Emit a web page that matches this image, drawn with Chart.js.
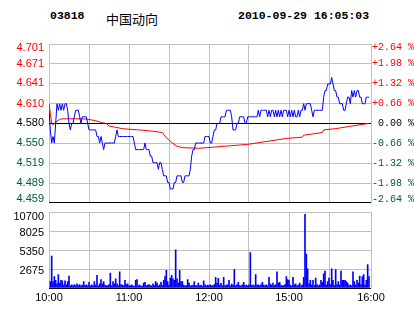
<!DOCTYPE html>
<html>
<head>
<meta charset="utf-8">
<script src="https://cdn.jsdelivr.net/npm/chart.js@4.4.1/dist/chart.umd.min.js"></script>
<style>
body { margin: 0; background: #fff; width: 414px; height: 314px; position: relative; overflow: hidden; }
.hd { position: absolute; top: 9px; line-height: 14px; color: #000; white-space: nowrap; }
.code { left: 50px; font: bold 11.5px "Liberation Mono", monospace; }
.name { left: 106px; font: 13px "Noto Sans CJK SC", sans-serif; }
.time { left: 238px; font: bold 11.5px "Liberation Mono", monospace; }
canvas { position: absolute; left: 0; }
</style>
</head>
<body>
<div class="hd code">03818</div>
<div class="hd name">中国动向</div>
<div class="hd time">2010-09-29 16:05:03</div>
<canvas id="pricechart" width="414" height="215" style="top:0"></canvas>
<canvas id="volchart" width="414" height="114" style="top:200px"></canvas>
<script>
var prevClose = 4.580;

// last price per minute, minute 0 = 10:00, 150 = 12:30 / 14:30, 240 = 16:00
var prices = [
    4.60, 4.57, 4.55, 4.56, 4.55, 4.58, 4.61, 4.60, 4.61, 4.60,
    4.61, 4.60, 4.61, 4.61, 4.60, 4.58, 4.57, 4.58, 4.58, 4.59,
    4.60, 4.60, 4.60, 4.59, 4.58, 4.59, 4.59, 4.59, 4.59, 4.58,
    4.57, 4.57, 4.57, 4.57, 4.57, 4.57, 4.56, 4.56, 4.55, 4.56,
    4.55, 4.54, 4.55, 4.55, 4.55, 4.55, 4.55, 4.55, 4.55, 4.55,
    4.56, 4.57, 4.56, 4.56, 4.56, 4.56, 4.56, 4.56, 4.56, 4.56,
    4.56, 4.56, 4.56, 4.56, 4.55, 4.54, 4.54, 4.54, 4.54, 4.54,
    4.54, 4.54, 4.55, 4.54, 4.54, 4.54, 4.53, 4.53, 4.52, 4.52,
    4.52, 4.52, 4.51, 4.52, 4.52, 4.51, 4.50, 4.50, 4.50, 4.49,
    4.49, 4.48, 4.48, 4.48, 4.49, 4.49, 4.50, 4.50, 4.50, 4.50,
    4.49, 4.49, 4.50, 4.50, 4.50, 4.50, 4.51, 4.53, 4.54, 4.54,
    4.55, 4.55, 4.55, 4.55, 4.55, 4.55, 4.55, 4.56, 4.56, 4.56,
    4.56, 4.55, 4.55, 4.56, 4.57, 4.57, 4.58, 4.58, 4.58, 4.59,
    4.59, 4.59, 4.59, 4.60, 4.60, 4.60, 4.60, 4.59, 4.57, 4.57,
    4.57, 4.58, 4.58, 4.59, 4.59, 4.59, 4.59, 4.58, 4.58, 4.59,
    4.59, 4.59, 4.59, 4.59, 4.59, 4.59, 4.59, 4.60, 4.59, 4.60,
    4.60, 4.60, 4.60, 4.60, 4.59, 4.60, 4.59, 4.60, 4.60, 4.59,
    4.60, 4.59, 4.60, 4.59, 4.60, 4.59, 4.60, 4.60, 4.60, 4.59,
    4.60, 4.59, 4.60, 4.59, 4.60, 4.59, 4.59, 4.60, 4.59, 4.60,
    4.60, 4.61, 4.60, 4.61, 4.61, 4.61, 4.61, 4.60, 4.59, 4.60,
    4.60, 4.60, 4.60, 4.60, 4.60, 4.60, 4.62, 4.63, 4.63, 4.64,
    4.64, 4.64, 4.65, 4.64, 4.63, 4.63, 4.62, 4.62, 4.61, 4.61,
    4.61, 4.60, 4.60, 4.61, 4.62, 4.62, 4.61, 4.63, 4.62, 4.63,
    4.62, 4.63, 4.63, 4.62, 4.62, 4.61, 4.61, 4.61, 4.62, 4.62,
    4.62
];

// average price (red line), read at these minutes
var avgMinutes = [0, 1, 2, 3, 5, 8, 10, 15, 20, 25, 30, 35, 40, 43, 45, 50, 55, 60, 68, 78,
    85, 88, 92, 96, 100, 112, 125, 149, 178, 190, 191, 205, 206, 215, 240];
var avgPrices = [4.610, 4.595, 4.580, 4.578, 4.582, 4.586, 4.587, 4.587, 4.587, 4.587,
    4.586, 4.584, 4.581, 4.580, 4.576, 4.574, 4.572, 4.571, 4.570, 4.568,
    4.566, 4.558, 4.551, 4.545, 4.543, 4.542, 4.544, 4.548, 4.557, 4.559,
    4.562, 4.566, 4.570, 4.572, 4.580];

// volume per minute, minutes 1..240
var volumes = [
    900, 4500, 900, 1600, 1100, 600, 1900, 700, 1100, 1000,
    400, 1000, 450, 900, 1700, 300, 450, 350, 500, 300,
    600, 350, 500, 300, 400, 900, 350, 450, 300, 800,
    300, 450, 350, 900, 400, 1800, 300, 600, 1200, 600,
    900, 400, 300, 350, 500, 2100, 300, 900, 600, 1300,
    600, 350, 2300, 500, 400, 350, 1100, 500, 600, 300,
    350, 450, 300, 250, 1100, 1200, 300, 450, 250, 300,
    700, 800, 300, 400, 500, 350, 300, 600, 350, 900,
    700, 300, 450, 800, 350, 1100, 1600, 2500, 900, 400,
    1400, 1800, 1300, 1100, 5400, 1300, 700, 2500, 900, 900,
    400, 300, 350, 1200, 700, 300, 350, 400, 900, 300,
    350, 700, 300, 400, 250, 1000, 450, 300, 400, 350,
    450, 300, 350, 500, 1500, 700, 1350, 400, 650, 300,
    1500, 350, 400, 450, 1100, 300, 550, 400, 2600, 300,
    500, 800, 350, 300, 450, 800, 350, 400, 300, 450,
    5000, 350, 450, 300, 1900, 400, 450, 300, 500, 800,
    400, 350, 450, 300, 1500, 600, 400, 700, 350, 450,
    2300, 700, 800, 400, 300, 350, 500, 1600, 1200, 1100,
    400, 300, 1500, 450, 600, 300, 400, 700, 300, 450,
    1500, 10400, 4800, 2700, 600, 1100, 400, 1100, 350, 1400,
    500, 300, 450, 1100, 800, 2000, 2400, 400, 900, 1400,
    500, 2700, 1100, 350, 2600, 500, 900, 400, 2400, 1100,
    1100, 1100, 900, 700, 350, 450, 300, 2300, 900, 400,
    1100, 700, 1700, 500, 1600, 1900, 400, 1100, 3300, 1600
];

var priceTicks = [4.459, 4.489, 4.519, 4.550, 4.580, 4.610, 4.641, 4.671, 4.701];
var pctTicks = [-2.64, -1.98, -1.32, -0.66, 0, 0.66, 1.32, 1.98, 2.64];
var volTicks = [0, 2675, 5350, 8025, 10700];
var timeGrid = [0, 30, 60, 90, 120, 150, 180, 210];
var timeLabelMinutes = [0, 60, 120, 180, 240];
var timeLabels = ['10:00', '11:00', '12:00', '15:00', '16:00'];
var axisEnd = 241.5;

var RED = '#ff0000', GREEN = '#006030', GRID = '#c0c0c0';
var sans = 'Liberation Sans, Arial, sans-serif';
var mono = 'Liberation Mono, monospace';

function edgeLabel(label, i, n) {
    // nudge the first and last labels inside the plot, like the source chart
    if (i === n - 1) return ['', label];
    if (i === 0) return [label, ''];
    return label;
}
function upDownColor(v) {
    if (Math.abs(v) < 1e-6) return '#000';
    return v > 0 ? RED : GREEN;
}

var priceChart = new Chart(document.getElementById('pricechart'), {
    type: 'line',
    data: {
        datasets: [
            {
                data: prices.map(function(p, i) { return {x: i, y: p}; }),
                borderColor: '#0000ff', borderWidth: 1, pointRadius: 0, yAxisID: 'y'
            },
            {
                data: avgMinutes.map(function(m, i) { return {x: m, y: avgPrices[i]}; }),
                borderColor: RED, borderWidth: 1, pointRadius: 0, yAxisID: 'y'
            }
        ]
    },
    options: {
        responsive: false,
        animation: false,
        devicePixelRatio: 1,
        layout: { padding: { top: 44, bottom: 12, left: 0, right: 0 } },
        plugins: { legend: { display: false }, tooltip: { enabled: false } },
        scales: {
            x: {
                type: 'linear', min: 0, max: axisEnd,
                afterBuildTicks: function(s) { s.ticks = timeGrid.concat([axisEnd]).map(function(v) { return {value: v}; }); },
                afterFit: function(s) { s.height = 0; },
                ticks: { display: false },
                grid: { color: GRID, drawTicks: false },
                border: { display: false }
            },
            y: {
                position: 'left', min: 4.459, max: 4.701,
                afterBuildTicks: function(s) { s.ticks = priceTicks.map(function(v) { return {value: v}; }); },
                afterFit: function(s) { s.width = 49; },
                grid: {
                    drawTicks: false,
                    color: function(ctx) {
                        var v = ctx.tick.value;
                        return (Math.abs(v - prevClose) < 1e-6 || v === priceTicks[0]) ? '#000' : GRID;
                    }
                },
                border: { display: false },
                ticks: {
                    padding: 5,
                    font: { family: sans, size: 11, lineHeight: 0.66 },
                    color: function(ctx) { return upDownColor(ctx.tick.value - prevClose); },
                    callback: function(v, i, t) { return edgeLabel(v.toFixed(3), i, t.length); }
                }
            },
            pct: {
                position: 'right', min: -2.64, max: 2.64,
                afterBuildTicks: function(s) { s.ticks = pctTicks.map(function(v) { return {value: v}; }); },
                afterFit: function(s) { s.width = 43; },
                grid: { drawOnChartArea: false, drawTicks: false },
                border: { display: false },
                ticks: {
                    padding: 1,
                    font: { family: mono, size: 10, lineHeight: 0.66 },
                    color: function(ctx) { return upDownColor(ctx.tick.value); },
                    callback: function(v, i, t) {
                        var sign = v > 0 ? '+' : (v < 0 ? '-' : ' ');
                        return edgeLabel(sign + Math.abs(v).toFixed(2) + ' %', i, t.length);
                    }
                }
            }
        }
    }
});

var volChart = new Chart(document.getElementById('volchart'), {
    type: 'bar',
    data: {
        datasets: [{
            data: volumes.map(function(v, i) { return {x: i + 1, y: v}; }),
            backgroundColor: '#0000ff', borderWidth: 0, barThickness: 1
        }]
    },
    options: {
        responsive: false,
        animation: false,
        devicePixelRatio: 1,
        layout: { padding: { top: 9, bottom: 0, left: 0, right: 43 } },
        plugins: { legend: { display: false }, tooltip: { enabled: false } },
        scales: {
            x: {
                type: 'linear', min: 0, max: axisEnd, offset: false,
                afterBuildTicks: function(s) { s.ticks = timeGrid.concat([axisEnd]).map(function(v) { return {value: v}; }); },
                afterFit: function(s) { s.height = 26; },
                grid: { color: GRID, drawTicks: false, offset: false },
                border: { display: false },
                ticks: {
                    padding: 3, autoSkip: false, maxRotation: 0, color: '#000',
                    font: { family: sans, size: 11 },
                    callback: function(v) {
                        for (var k = 0; k < timeLabelMinutes.length; k++) {
                            if (Math.abs(timeLabelMinutes[k] - v) < 2) return timeLabels[k];
                        }
                        return '';
                    }
                }
            },
            y: {
                position: 'left', min: 0, max: 10700,
                afterBuildTicks: function(s) { s.ticks = volTicks.map(function(v) { return {value: v}; }); },
                afterFit: function(s) { s.width = 49; },
                grid: {
                    drawTicks: false,
                    color: function(ctx) { return ctx.tick.value === 0 ? '#000' : GRID; }
                },
                border: { display: false },
                ticks: {
                    padding: 5, labelOffset: 1.5, color: '#000',
                    font: { family: sans, size: 11, lineHeight: 0.66 },
                    callback: function(v, i, t) {
                        if (v === 0) return '';
                        return i === t.length - 1 ? ['', String(v)] : String(v);
                    }
                }
            }
        }
    }
});
</script>
</body>
</html>
